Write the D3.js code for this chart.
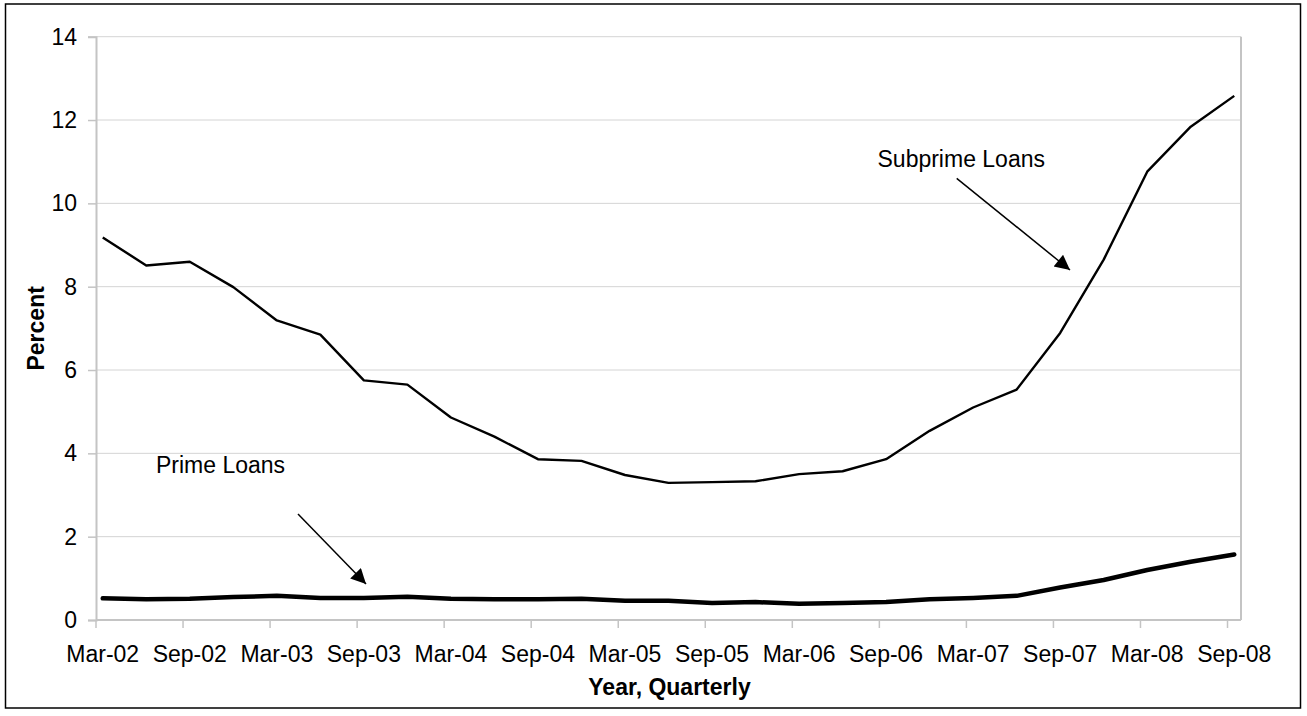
<!DOCTYPE html>
<html>
<head>
<meta charset="utf-8">
<script src="https://cdn.jsdelivr.net/npm/d3@7"></script>
<style>
  html, body { margin: 0; padding: 0; background: #fff; }
  svg { display: block; font-family: "Liberation Sans", Arial, sans-serif; }
</style>
</head>
<body>
<svg id="chart" width="1307" height="716"></svg>
<script>
const quarters = [
  "Mar-02","Jun-02","Sep-02","Dec-02",
  "Mar-03","Jun-03","Sep-03","Dec-03",
  "Mar-04","Jun-04","Sep-04","Dec-04",
  "Mar-05","Jun-05","Sep-05","Dec-05",
  "Mar-06","Jun-06","Sep-06","Dec-06",
  "Mar-07","Jun-07","Sep-07","Dec-07",
  "Mar-08","Jun-08","Sep-08"
];
const subprime = [9.18, 8.51, 8.60, 7.99, 7.19, 6.85, 5.75, 5.65, 4.86,
                  4.40, 3.86, 3.82, 3.48, 3.29, 3.31, 3.33, 3.50, 3.57,
                  3.86, 4.54, 5.10, 5.53, 6.89, 8.65, 10.76, 11.84, 12.58];
const prime = [0.52, 0.50, 0.51, 0.55, 0.58, 0.53, 0.53, 0.56, 0.51,
               0.50, 0.50, 0.51, 0.46, 0.46, 0.41, 0.43, 0.39, 0.41,
               0.43, 0.50, 0.53, 0.58, 0.78, 0.96, 1.20, 1.40, 1.57];
const yTicks = [0, 2, 4, 6, 8, 10, 12, 14];
const xLabelQuarters = quarters.filter((d, i) => i % 2 === 0);

(function () {
const svg = d3.select("#chart");
const pL = 96, pR = 1241, pT = 36.7, pB = 620;
const FONT = 23;

// outer border
svg.append("rect").attr("x", 5.5).attr("y", 4).attr("width", 1295).attr("height", 704)
  .attr("fill", "none").attr("stroke", "#000").attr("stroke-width", 1.5);

const x = d3.scalePoint().domain(quarters).range([pL, pR]).padding(0.155);
const y = d3.scaleLinear().domain([0, 14]).range([pB, pT]);

// gridlines
svg.append("g").selectAll("line").data(yTicks.filter(d => d > 0)).join("line")
  .attr("x1", pL).attr("x2", pR)
  .attr("y1", d => y(d)).attr("y2", d => y(d))
  .attr("stroke", "#d4d4d4").attr("stroke-width", 1);

// right plot border
svg.append("line").attr("x1", pR).attr("x2", pR).attr("y1", pT).attr("y2", pB)
  .attr("stroke", "#c4c4c4").attr("stroke-width", 2);

// y axis
const yAxis = d3.axisLeft(y).tickValues(yTicks).tickSize(8).tickPadding(11).tickFormat(d3.format("d"));
const gy = svg.append("g").attr("transform", `translate(${pL},0)`).call(yAxis);
gy.select(".domain").attr("stroke", "#c4c4c4").attr("stroke-width", 2);
gy.selectAll(".tick line").attr("stroke", "#c4c4c4").attr("stroke-width", 1.5);
gy.selectAll(".tick text").attr("font-size", FONT).attr("fill", "#000")
  .attr("font-family", "'Liberation Sans', Arial, sans-serif");

// x axis line
svg.append("line").attr("x1", pL).attr("x2", pR).attr("y1", pB).attr("y2", pB)
  .attr("stroke", "#c4c4c4").attr("stroke-width", 2);
// x ticks (at left of each labelled category)
const tickOff = x.step() * x.padding();
svg.append("g").selectAll("line").data(xLabelQuarters).join("line")
  .attr("x1", d => x(d) - tickOff).attr("x2", d => x(d) - tickOff)
  .attr("y1", pB).attr("y2", pB + 8)
  .attr("stroke", "#c4c4c4").attr("stroke-width", 1.5);
// x labels
svg.append("g").selectAll("text").data(xLabelQuarters).join("text")
  .attr("x", d => x(d)).attr("y", 661.5)
  .attr("text-anchor", "middle").attr("font-size", FONT).attr("fill", "#000")
  .text(d => d);

// axis titles
svg.append("text").attr("x", (pL + pR) / 2 + 1).attr("y", 695)
  .attr("text-anchor", "middle").attr("font-size", FONT).attr("font-weight", "bold")
  .text("Year, Quarterly");
svg.append("text").attr("transform", `translate(44,${(pT + pB) / 2}) rotate(-90)`)
  .attr("text-anchor", "middle").attr("font-size", FONT).attr("font-weight", "bold")
  .text("Percent");

// lines
const line = d3.line().x((d, i) => x(quarters[i])).y(d => y(d));
svg.append("path").datum(subprime).attr("d", line)
  .attr("fill", "none").attr("stroke", "#000").attr("stroke-width", 2.4)
  .attr("stroke-linejoin", "round");
svg.append("path").datum(prime).attr("d", line)
  .attr("fill", "none").attr("stroke", "#000").attr("stroke-width", 4.5)
  .attr("stroke-linejoin", "round").attr("stroke-linecap", "round");

// annotations
const defs = svg.append("defs");
defs.append("marker").attr("id", "arrow").attr("viewBox", "0 0 10 10")
  .attr("refX", 10).attr("refY", 5).attr("markerWidth", 17).attr("markerHeight", 15)
  .attr("markerUnits", "userSpaceOnUse").attr("orient", "auto")
  .append("path").attr("d", "M0,0 L10,5 L0,10 Z").attr("fill", "#000");

svg.append("text").attr("x", 1045).attr("y", 167).attr("text-anchor", "end")
  .attr("font-size", FONT).text("Subprime Loans");
svg.append("line").attr("x1", 956.7).attr("y1", 178.3).attr("x2", 1070).attr("y2", 270)
  .attr("stroke", "#000").attr("stroke-width", 1.5).attr("marker-end", "url(#arrow)");

svg.append("text").attr("x", 156).attr("y", 473).attr("text-anchor", "start")
  .attr("font-size", FONT).text("Prime Loans");
svg.append("line").attr("x1", 298).attr("y1", 514).attr("x2", 366).attr("y2", 584)
  .attr("stroke", "#000").attr("stroke-width", 1.5).attr("marker-end", "url(#arrow)");
})();
</script>
</body>
</html>
